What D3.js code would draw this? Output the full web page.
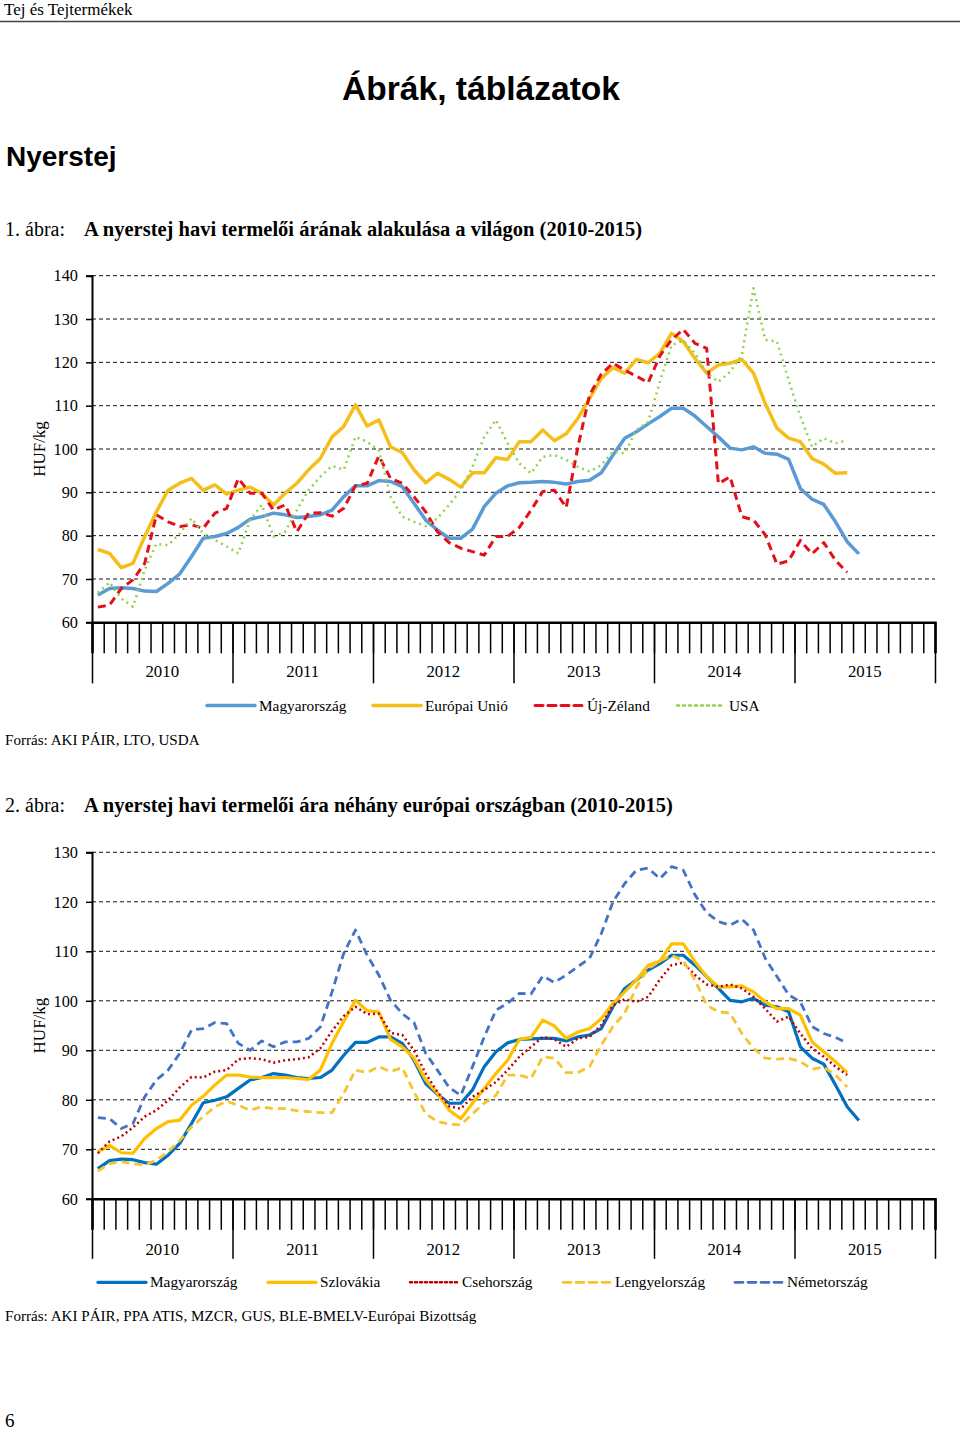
<!DOCTYPE html>
<html><head><meta charset="utf-8">
<script src="https://cdn.jsdelivr.net/npm/d3@7"></script>
<style>body{margin:0;background:#fff}svg{display:block}</style>
</head><body>
<script>
const years = ["2010","2011","2012","2013","2014","2015"];
const monthsPerYear = 12;
const yTicks1 = [60,70,80,90,100,110,120,130,140];
const yTicks2 = [60,70,80,90,100,110,120,130];

// Chart 1 (HUF/kg)
const hu1 = [66.3,67.8,68,67.8,67.2,67.1,69,71.2,75.2,79.4,79.8,80.5,
 81.9,83.8,84.4,85.2,84.8,84.2,84.4,84.8,85.9,89,91.5,91.5,
 92.7,92.5,91.3,87.5,83.6,81.3,79.4,79.4,81.5,86.7,89.8,91.5,
 92.2,92.3,92.5,92.3,91.9,92.5,92.8,94.5,98.6,102.5,104,105.8,
 107.5,109.4,109.4,107.6,105.2,102.8,100.2,99.8,100.5,99,98.8,97.6,
 90.9,88.4,87.2,83.2,78.6,75.8];
const eu1 = [76.8,75.9,72.6,73.6,79.8,85.5,90.5,92.1,93.2,90.5,91.7,89.6,
 90.5,91.2,89.8,87.1,89.8,92.1,95.2,97.8,102.8,105.2,110.2,105.3,
 106.7,100.5,99.2,95.2,92.2,94.4,93,91.2,94.5,94.5,98,97.6,
 101.7,101.7,104.4,101.9,103.5,107.1,111.7,116.3,118.8,117.5,120.7,119.9,
 122.1,126.7,124.8,120.9,117.5,119.4,119.8,120.7,117.5,110.5,104.8,102.5,
 101.7,97.8,96.5,94.4,94.5];
const nz1 = [63.5,64,67.8,69.8,73.6,84.8,83.2,82.1,82.5,81.7,85.2,86.3,
 93.2,89.8,89.8,85.9,87.1,80.9,85.2,85.3,84.5,86.3,91.5,92.1,
 98.4,93.2,92.1,89,85.5,80.9,78.4,77.1,76.3,75.5,79.8,79.8,
 81.9,85.9,90.2,90.5,86.5,100.5,112.5,117.3,119.8,118.2,116.8,115.3,
 121.5,125.2,127.6,124.4,123.2,92,93.6,84.4,83.6,80.2,73.4,74.2,
 78.9,75.8,78.4,74.3,71.5];
const usa1 = [66.8,69.2,65.5,63.6,72.1,78.1,77.8,80.5,84,80.5,79,77.5,
 75.9,83.6,87.1,79.8,80.9,85.9,90.5,93.6,96.1,95.2,102.8,101.7,
 99.6,89,84.4,83.2,82.2,84,87.1,90.5,95.9,102.8,106.7,101.3,
 96.7,94.4,98.2,98.6,97.5,95.9,94.8,96.3,99.4,99,104.4,106.3,
 115.5,124,125,122.1,117.5,115.5,117.8,121.7,137.1,125.2,124.8,115.9,
 107.5,100.5,102.5,101.3,102];

// Chart 2 (HUF/kg)
const hu2 = [66.1,67.7,68,67.9,67.3,67,68.8,71.2,75.2,79.4,79.9,80.6,
 82.3,84,84.5,85.3,85,84.5,84.3,84.5,86,89,91.6,91.6,
 92.7,92.7,91.4,88,83.3,81.1,79.3,79.3,82,86.7,89.7,91.5,
 92.2,92.3,92.4,92.4,91.9,92.7,93.1,94.4,98.8,102.5,104.2,106.2,
 107.5,109.2,109.2,107.2,104.9,102.5,100.1,99.8,100.5,99.1,98.8,97.8,
 90.7,88.4,87.2,83,78.6,75.8];
const sk2 = [69.5,70.8,69.3,69.2,72.2,74.2,75.6,75.9,78.9,80.7,83,85,
 85,84.6,84.5,84.5,84.5,84.3,84.1,86,91.4,95.8,100.1,98,
 97.7,92.2,90.7,88.4,84,81.3,77.9,76.2,79.3,82.3,85.3,88,
 92.2,92.6,96.1,94.9,92.4,93.7,94.4,96.4,99.5,101.8,104.2,107.2,
 108,111.5,111.5,107.9,104.9,102.8,102.8,103,101.8,99.8,98.4,98.4,
 97.1,91.7,89.7,87.7,85.5];
const cz2 = [69.2,71.6,72.6,74.4,76.6,77.9,79.9,82.5,84.6,84.5,85.7,86,
 88.2,88.4,88.2,87.5,88,88.2,88.6,90.4,93.9,96.9,98.8,97.3,
 97.4,93.5,93.1,90,85.3,81.6,78.7,78.2,80.6,82,83.6,86,
 88.7,90.7,92.7,92.2,90.7,92.4,92.7,95.1,99.1,100.3,99.8,100.8,
 104.3,107.2,107.7,105.2,103.3,102.8,103.3,102.5,100.8,98.4,95.8,96.8,
 93.4,90.4,88.7,86.7,85];
const pl2 = [65.6,67.1,67.5,67.1,66.8,67.8,69.5,71.8,74.5,76.6,78.6,79.7,
 78.9,77.9,78.6,78.2,78.2,77.8,77.6,77.4,77.4,81.3,86,85.5,
 86.7,85.7,86.5,81.6,77.2,75.6,75.1,74.9,77.2,79.3,80.9,85,
 85,84.3,88.7,88.4,85.5,85.5,86.7,91.1,94.8,97.5,102.8,106.5,
 108,109.2,108.1,104.2,99.1,97.8,97.5,93.4,90.4,88.4,88.2,88.4,
 87.7,86.2,86.6,85,82.6];
const de2 = [76.4,76.2,74.2,75.2,80.6,84,86,89.4,94.1,94.4,95.6,95.4,
 91.4,90,91.9,90.7,91.7,91.7,92.4,94.7,101.8,109.6,114.3,109.2,
 105.2,100.1,97.4,95.6,89.4,86,82.5,80.9,86.7,92.7,98.1,99.5,
 101.5,101.4,105,103.7,105.2,106.9,108.6,113.6,120,123.7,126.4,126.8,
 124.7,127.1,126.4,121.4,117.8,116,115.3,116.5,114.3,108.6,104.9,101.2,
 99.8,94.8,93.4,92.6,91.5];

const serif = "'Liberation Serif','Times New Roman',serif";
const sans = "'Liberation Sans',Arial,sans-serif";

const svg = d3.select("body").append("svg").attr("width",960).attr("height",1433);

// header
svg.append("text").attr("x",4).attr("y",15).attr("font-family",serif).attr("font-size",17).text("Tej és Tejtermékek");
svg.append("line").attr("x1",0).attr("x2",960).attr("y1",21.5).attr("y2",21.5).attr("stroke","#444").attr("stroke-width",1.5);
svg.append("text").attr("x",481).attr("y",100).attr("text-anchor","middle").attr("font-family",sans).attr("font-weight","bold").attr("font-size",33.6).text("Ábrák, táblázatok");
svg.append("text").attr("x",6).attr("y",166).attr("font-family",sans).attr("font-weight","bold").attr("font-size",28).text("Nyerstej");

function caption(y, num, title){
  svg.append("text").attr("x",5).attr("y",y).attr("font-family",serif).attr("font-size",20).text(num);
  svg.append("text").attr("x",84).attr("y",y).attr("font-family",serif).attr("font-weight","bold").attr("font-size",20.5).text(title);
}
caption(236,"1. ábra:","A nyerstej havi termelői árának alakulása a világon (2010-2015)");
caption(812,"2. ábra:","A nyerstej havi termelői ára néhány európai országban (2010-2015)");

const nMonths = years.length*monthsPerYear;
const X0 = 92, X1 = 935;
const xBand = d3.scaleBand().domain(d3.range(nMonths)).range([X0,X1]).padding(0);
const xEdge = d3.scaleLinear().domain([0,nMonths]).range([X0,X1]);
const px = i => xBand(i)+xBand.bandwidth()/2;

function chart(cfg){
  const g = svg.append("g");
  const y = d3.scaleLinear().domain([cfg.yMin,cfg.yMax]).range([cfg.bottom,cfg.top]);
  // gridlines
  g.append("g").selectAll("line").data(cfg.yTicks.filter(v=>v>cfg.yMin)).join("line")
    .attr("x1",X0).attr("x2",X1).attr("y1",d=>y(d)).attr("y2",d=>y(d))
    .attr("stroke","#111").attr("stroke-width",1).attr("stroke-dasharray","4,3");
  // y axis
  const ya = g.append("g").attr("transform",`translate(${X0},0)`)
    .call(d3.axisLeft(y).tickValues(cfg.yTicks).tickSize(6).tickPadding(8).tickFormat(d3.format("d")));
  ya.select(".domain").attr("stroke","#000").attr("stroke-width",2);
  ya.selectAll(".tick line").attr("stroke","#000").attr("stroke-width",1.5);
  ya.selectAll("text").attr("font-family",serif).attr("font-size",16.3).attr("fill","#000");
  // x axis minor ticks
  const xa = g.append("g").attr("transform",`translate(0,${cfg.bottom})`)
    .call(d3.axisBottom(xEdge).tickValues(d3.range(0,nMonths+1)).tickSize(cfg.minor).tickFormat(""));
  xa.select(".domain").attr("stroke","#000").attr("stroke-width",2.5);
  xa.selectAll(".tick line").attr("stroke","#000").attr("stroke-width",1.5);
  const xb = g.append("g").attr("transform",`translate(0,${cfg.bottom})`)
    .call(d3.axisBottom(xEdge).tickValues(d3.range(0,nMonths+1,monthsPerYear)).tickSize(cfg.major).tickFormat(""));
  xb.select(".domain").remove();
  xb.selectAll(".tick line").attr("stroke","#000").attr("stroke-width",1.5);
  g.append("g").selectAll("text").data(years).join("text")
    .attr("x",(d,i)=>xEdge(i*monthsPerYear+monthsPerYear/2)).attr("y",cfg.bottom+cfg.labelDy)
    .attr("text-anchor","middle").attr("font-family",serif).attr("font-size",16.8).text(d=>d);
  // y title
  g.append("text").attr("transform",`translate(${45},${(cfg.top+cfg.bottom)/2}) rotate(-90)`)
    .attr("text-anchor","middle").attr("font-family",serif).attr("font-size",17).text("HUF/kg");
  // lines
  const line = d3.line().x((d,i)=>px(i)).y(d=>y(d)).curve(d3.curveLinear);
  cfg.series.forEach(s=>{
    g.append("path").datum(s.values).attr("d",line).attr("fill","none")
      .attr("stroke",s.color).attr("stroke-width",s.width)
      .attr("stroke-dasharray",s.dash||null).attr("stroke-linecap",s.cap||"butt").attr("stroke-linejoin","round");
  });
  // legend
  const lg = g.append("g");
  cfg.series.forEach(s=>{
    lg.append("line").attr("x1",s.lx).attr("x2",s.lx+48).attr("y1",cfg.legendY).attr("y2",cfg.legendY)
      .attr("stroke",s.color).attr("stroke-width",s.width).attr("stroke-dasharray",s.dash||null).attr("stroke-linecap",s.cap||"round");
    lg.append("text").attr("x",s.lx+52).attr("y",cfg.legendY+5).attr("font-family",serif).attr("font-size",15.3).text(s.name);
  });
  svg.append("text").attr("x",5).attr("y",cfg.srcY).attr("font-family",serif).attr("font-size",15.1).text(cfg.source);
}

chart({
  top:275.7, bottom:622.3, yMin:60, yMax:140, yTicks:yTicks1, minor:31, major:61, labelDy:55,
  legendY:705.5, srcY:745, source:"Forrás: AKI PÁIR, LTO, USDA",
  series:[
    {name:"Magyarország", values:hu1, color:"#5B9BD5", width:3.5, lx:207},
    {name:"Európai Unió", values:eu1, color:"#F6BE1B", width:3.5, lx:373},
    {name:"Új-Zéland", values:nz1, color:"#E3101A", width:3, dash:"8,5", lx:535},
    {name:"USA", values:usa1, color:"#92D050", width:2.5, dash:"2,4", lx:677}
  ]
});

chart({
  top:852.3, bottom:1198.8, yMin:60, yMax:130, yTicks:yTicks2, minor:31, major:60, labelDy:56,
  legendY:1282.3, srcY:1321, source:"Forrás: AKI PÁIR, PPA ATIS, MZCR, GUS, BLE-BMELV-Európai Bizottság",
  series:[
    {name:"Magyarország", values:hu2, color:"#0070C0", width:3.2, lx:98},
    {name:"Szlovákia", values:sk2, color:"#FFC000", width:3.2, lx:268},
    {name:"Csehország", values:cz2, color:"#C00000", width:2.5, dash:"2,3", lx:410},
    {name:"Lengyelország", values:pl2, color:"#F5C431", width:2.8, dash:"8,5", lx:563},
    {name:"Németország", values:de2, color:"#4472C4", width:2.8, dash:"8,5", lx:735}
  ]
});

svg.append("text").attr("x",5).attr("y",1427).attr("font-family",serif).attr("font-size",19).text("6");
</script>
</body></html>
